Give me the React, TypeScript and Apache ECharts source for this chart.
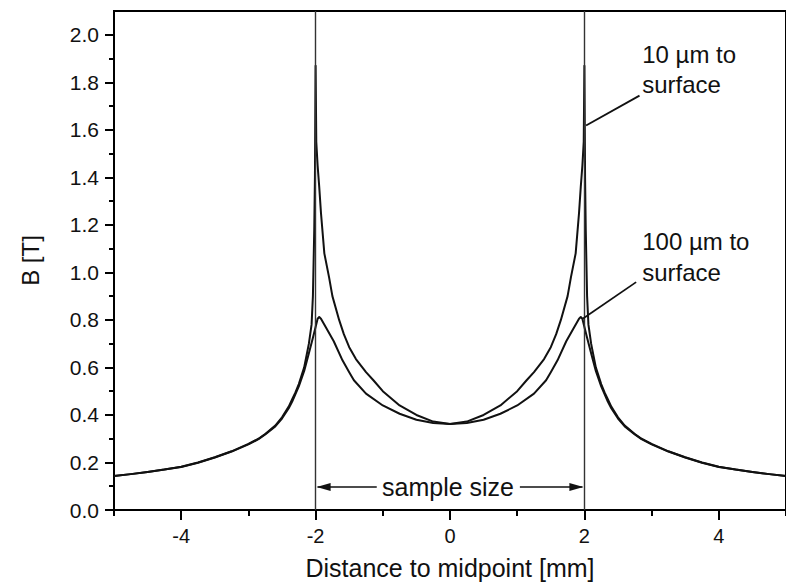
import React, { useEffect, useRef } from "react";
import * as echarts from "echarts";

// ---- axis ticks ----
const xTicks = [-4, -2, 0, 2, 4];
const xMinorTicks = [-5, -3, -1, 1, 3, 5];
const yTicks = [0, 0.2, 0.4, 0.6, 0.8, 1.0, 1.2, 1.4, 1.6, 1.8, 2.0];
const yMinorTicks = [0.1, 0.3, 0.5, 0.7, 0.9, 1.1, 1.3, 1.5, 1.7, 1.9];

// ---- 10 µm to surface ----
const x10 = [
  -5, -4.75, -4.5, -4.25, -4, -3.75, -3.5, -3.25, -3, -2.85, -2.75, -2.6, -2.5, -2.4, -2.35, -2.3, -2.25,
  -2.17, -2.1, -2.06, -2.04, -2.02, -2.01, -2.0,
  -1.99, -1.97, -1.946, -1.92, -1.87, -1.8, -1.75, -1.65, -1.58, -1.5, -1.4, -1.25, -1.14, -1.0,
  -0.75, -0.5, -0.25, 0,
  0.25, 0.5, 0.75, 1.0, 1.14, 1.25, 1.4, 1.5, 1.58, 1.65, 1.75, 1.8, 1.87, 1.92, 1.946, 1.97, 1.99,
  2.0, 2.01, 2.02, 2.04, 2.06, 2.1, 2.17,
  2.25, 2.3, 2.35, 2.4, 2.5, 2.6, 2.75, 2.85, 3, 3.25, 3.5, 3.75, 4, 4.25, 4.5, 4.75, 5,
];
const y10 = [
  0.143, 0.151, 0.160, 0.170, 0.182, 0.200, 0.222, 0.247, 0.278, 0.300, 0.320, 0.355, 0.390, 0.435, 0.465, 0.495, 0.530,
  0.600, 0.700, 0.780, 0.900, 1.180, 1.400, 1.870,
  1.550, 1.450, 1.360, 1.250, 1.080, 0.980, 0.900, 0.800, 0.740, 0.685, 0.635, 0.580, 0.546, 0.500,
  0.440, 0.400, 0.372, 0.362,
  0.372, 0.400, 0.440, 0.500, 0.546, 0.580, 0.635, 0.685, 0.740, 0.800, 0.900, 0.980, 1.080, 1.250, 1.360, 1.450, 1.550,
  1.870, 1.400, 1.180, 0.900, 0.780, 0.700, 0.600,
  0.530, 0.495, 0.465, 0.435, 0.390, 0.355, 0.320, 0.300, 0.278, 0.247, 0.222, 0.200, 0.182, 0.170, 0.160, 0.151, 0.143,
];

// ---- 100 µm to surface ----
const x100 = [
  -5, -4.75, -4.5, -4.25, -4, -3.75, -3.5, -3.25, -3, -2.85, -2.75, -2.6, -2.5, -2.4, -2.35, -2.3, -2.25,
  -2.17, -2.1, -2.04, -2.0, -1.97, -1.946, -1.92, -1.85,
  -1.73, -1.6, -1.5, -1.43, -1.25, -1.0, -0.75, -0.5, -0.25, 0,
  0.25, 0.5, 0.75, 1.0, 1.25, 1.43, 1.5, 1.6, 1.73,
  1.85, 1.92, 1.946, 1.97, 2.0, 2.04, 2.1, 2.17,
  2.25, 2.3, 2.35, 2.4, 2.5, 2.6, 2.75, 2.85, 3, 3.25, 3.5, 3.75, 4, 4.25, 4.5, 4.75, 5,
];
const y100 = [
  0.143, 0.151, 0.160, 0.170, 0.181, 0.199, 0.221, 0.246, 0.276, 0.298, 0.318, 0.352, 0.385, 0.428, 0.455, 0.488, 0.520,
  0.585, 0.660, 0.725, 0.770, 0.805, 0.812, 0.805, 0.770,
  0.710, 0.630, 0.580, 0.546, 0.490, 0.440, 0.405, 0.380, 0.366, 0.362,
  0.366, 0.380, 0.405, 0.440, 0.490, 0.546, 0.580, 0.630, 0.710,
  0.770, 0.805, 0.812, 0.805, 0.770, 0.725, 0.660, 0.585,
  0.520, 0.488, 0.455, 0.428, 0.385, 0.352, 0.318, 0.298, 0.276, 0.246, 0.221, 0.199, 0.181, 0.170, 0.160, 0.151, 0.143,
];

// ---- annotations (data coordinates) ----
const sampleEdges = [-2, 2];
const arrowY = 0.097;
const arrowGap = [-1.09, 1.04];
const sampleLabel = "sample size";
const label10 = "10 µm to\nsurface";
const label10At = [2.86, 1.853];
const leader10 = [[2.025, 1.618], [2.82, 1.744]];
const label100 = "100 µm to\nsurface";
const label100At = [2.86, 1.065];
const leader100 = [[1.975, 0.805], [2.77, 0.959]];

const FONT = "'Liberation Sans', Arial, Helvetica, sans-serif";

export default function App() {
  const ref = useRef<HTMLDivElement>(null);

  useEffect(() => {
    if (!ref.current) return;
    const chart = echarts.init(ref.current, null, { renderer: "svg" });

    const axisBase = {
      type: "value",
      splitLine: { show: false },
    };

    const option: any = {
      animation: false,
      backgroundColor: "#fff",
      grid: {
        left: 114,
        top: 11,
        width: 680,
        height: 499,
        show: true,
        borderColor: "#000",
        borderWidth: 2,
        backgroundColor: "transparent",
      },
      xAxis: [
        {
          ...axisBase,
          min: -5,
          max: 5,
          position: "bottom",
          axisLine: { show: true, onZero: false, lineStyle: { color: "#000", width: 2 } },
          axisTick: { show: true, customValues: xTicks, length: 10, lineStyle: { color: "#000", width: 2 } },
          axisLabel: {
            customValues: xTicks,
            fontSize: 20,
            color: "#111",
            fontFamily: FONT,
            margin: 16,
          },
          name: "Distance to midpoint [mm]",
          nameLocation: "middle",
          nameGap: 45,
          nameTextStyle: { fontSize: 25, color: "#111", fontFamily: FONT },
        },
        {
          ...axisBase,
          min: -5,
          max: 5,
          position: "bottom",
          axisLine: { show: false, onZero: false },
          axisTick: { show: true, customValues: xMinorTicks, length: 6, lineStyle: { color: "#000", width: 2 } },
          axisLabel: { show: false },
        },
      ],
      yAxis: [
        {
          ...axisBase,
          min: 0,
          max: 2.1,
          position: "left",
          axisLine: { show: true, onZero: false, lineStyle: { color: "#000", width: 2 } },
          axisTick: { show: true, customValues: yTicks, length: 9, lineStyle: { color: "#000", width: 2 } },
          axisLabel: {
            customValues: yTicks,
            fontSize: 21,
            color: "#111",
            fontFamily: FONT,
            margin: 15,
            formatter: (v: number) => v.toFixed(1),
          },
          name: "B [T]",
          nameLocation: "middle",
          nameGap: 72,
          nameTextStyle: { fontSize: 24, color: "#111", fontFamily: FONT },
        },
        {
          ...axisBase,
          min: 0,
          max: 2.1,
          position: "left",
          axisLine: { show: false, onZero: false },
          axisTick: { show: true, customValues: yMinorTicks, length: 5, lineStyle: { color: "#000", width: 2 } },
          axisLabel: { show: false },
        },
      ],
      series: [
        {
          name: "10 µm to surface",
          type: "line",
          data: x10.map((x, i) => [x, y10[i]]),
          showSymbol: false,
          symbol: "none",
          lineStyle: { color: "#111", width: 2, join: "round" },
          z: 3,
          markLine: {
            silent: true,
            symbol: ["none", "none"],
            label: { show: false },
            lineStyle: { color: "#333", width: 1.4, type: "solid" },
            data: [
              ...sampleEdges.map((v) => ({ xAxis: v })),
              [
                { coord: leader10[0], lineStyle: { color: "#111", width: 1.8 } },
                { coord: leader10[1] },
              ],
              [
                { coord: leader100[0], lineStyle: { color: "#111", width: 1.8 } },
                { coord: leader100[1] },
              ],
            ],
          },
        },
        {
          name: "100 µm to surface",
          type: "line",
          data: x100.map((x, i) => [x, y100[i]]),
          showSymbol: false,
          symbol: "none",
          lineStyle: { color: "#111", width: 2, join: "round" },
          z: 3,
        },
      ],
    };

    chart.setOption(option);

    const px = (x: number, y: number) => chart.convertToPixel({ gridIndex: 0 }, [x, y]) as number[];
    const leftTip = px(sampleEdges[0], arrowY);
    const rightTip = px(sampleEdges[1], arrowY);
    const leftEnd = px(arrowGap[0], arrowY);
    const rightStart = px(arrowGap[1], arrowY);
    const mid = px((sampleEdges[0] + sampleEdges[1]) / 2, arrowY);
    const p10 = px(label10At[0], label10At[1]);
    const p100 = px(label100At[0], label100At[1]);
    const aL = 14;
    const aW = 4;

    chart.setOption({
      graphic: [
        {
          type: "line",
          shape: { x1: leftTip[0] + 2, y1: leftTip[1], x2: leftEnd[0], y2: leftEnd[1] },
          style: { stroke: "#111", lineWidth: 1.5 },
        },
        {
          type: "line",
          shape: { x1: rightStart[0], y1: rightStart[1], x2: rightTip[0] - 2, y2: rightTip[1] },
          style: { stroke: "#111", lineWidth: 1.5 },
        },
        {
          type: "polygon",
          shape: {
            points: [
              [leftTip[0] + 1, leftTip[1]],
              [leftTip[0] + 1 + aL, leftTip[1] - aW],
              [leftTip[0] + 1 + aL, leftTip[1] + aW],
            ],
          },
          style: { fill: "#111" },
        },
        {
          type: "polygon",
          shape: {
            points: [
              [rightTip[0] - 1, rightTip[1]],
              [rightTip[0] - 1 - aL, rightTip[1] - aW],
              [rightTip[0] - 1 - aL, rightTip[1] + aW],
            ],
          },
          style: { fill: "#111" },
        },
        {
          type: "text",
          x: mid[0] - 2,
          y: mid[1],
          style: {
            text: sampleLabel,
            fontSize: 25,
            fontFamily: FONT,
            fill: "#111",
            align: "center",
            verticalAlign: "middle",
          },
        },
        {
          type: "text",
          x: p10[0],
          y: p10[1],
          style: {
            text: label10,
            fontSize: 24,
            lineHeight: 30,
            fontFamily: FONT,
            fill: "#111",
            align: "left",
            verticalAlign: "middle",
          },
        },
        {
          type: "text",
          x: p100[0],
          y: p100[1],
          style: {
            text: label100,
            fontSize: 24,
            lineHeight: 31,
            fontFamily: FONT,
            fill: "#111",
            align: "left",
            verticalAlign: "middle",
          },
        },
      ],
    });

    return () => chart.dispose();
  }, []);

  return (
    <div
      ref={ref}
      style={{ position: "absolute", left: 0, top: 0, width: 786, height: 587, background: "#fff" }}
    />
  );
}
